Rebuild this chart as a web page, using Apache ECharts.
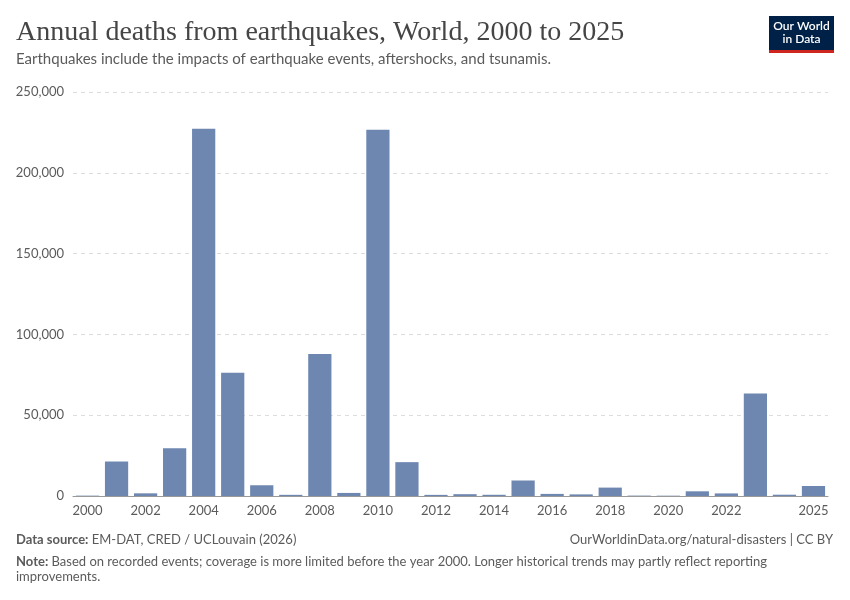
<!DOCTYPE html>
<html>
<head>
<meta charset="utf-8">
<script src="https://cdn.jsdelivr.net/npm/echarts@6/dist/echarts.min.js"></script>
<style>
  html, body { margin: 0; padding: 0; background: #fff; }
  #chart { width: 850px; height: 600px; }
</style>
</head>
<body>
<div id="chart"></div>
<script>
// years and annual earthquake deaths
const years = ['2000', '2001', '2002', '2003', '2004', '2005', '2006', '2007', '2008', '2009',
  '2010', '2011', '2012', '2013', '2014', '2015', '2016', '2017', '2018', '2019',
  '2020', '2021', '2022', '2023', '2024', '2025'];
const deaths = [230, 21350, 1650, 29600, 227300, 76200, 6650, 720, 87900, 1900,
  226700, 20950, 700, 1130, 750, 9600, 1300, 1000, 5200, 250,
  200, 2900, 1600, 63400, 800, 6200];
const shownLabels = ['2000', '2002', '2004', '2006', '2008', '2010', '2012', '2014',
  '2016', '2018', '2020', '2022', '2025'];
const yTicks = [0, 50000, 100000, 150000, 200000, 250000];

const chart = echarts.init(document.getElementById('chart'));

const labelFont = 'Lato, "Noto Sans", sans-serif';
const grey = '#5b5b5b';

const option = {
  backgroundColor: '#fff',
  animation: false,
  title: [
    {
      text: 'Annual deaths from earthquakes, World, 2000 to 2025',
      left: 16,
      top: 19,
      padding: 0,
      textStyle: {
        fontFamily: '"Liberation Serif", "DejaVu Serif", serif',
        fontSize: 28,
        fontWeight: 'normal',
        color: '#454545'
      }
    },
    {
      text: 'Earthquakes include the impacts of earthquake events, aftershocks, and tsunamis.',
      left: 16,
      top: 52,
      padding: 0,
      textStyle: { fontFamily: labelFont, fontSize: 15, fontWeight: 'normal', color: grey }
    },
    {
      text: '{b|Data source:} EM-DAT, CRED / UCLouvain (2026)',
      left: 16,
      top: 533,
      padding: 0,
      textStyle: {
        fontFamily: labelFont, fontSize: 13, fontWeight: 'normal', color: grey,
        rich: { b: { fontFamily: labelFont, fontSize: 13, fontWeight: 'bold', color: grey } }
      }
    },
    {
      text: 'OurWorldinData.org/natural-disasters | CC BY',
      right: 17,
      top: 533,
      padding: 0,
      textStyle: { fontFamily: labelFont, fontSize: 13, fontWeight: 'normal', color: grey }
    },
    {
      text: '{b|Note:} Based on recorded events; coverage is more limited before the year 2000. Longer historical trends may partly reflect reporting\nimprovements.',
      left: 16,
      top: 554,
      padding: 0,
      textStyle: {
        fontFamily: labelFont, fontSize: 13, fontWeight: 'normal', color: grey, lineHeight: 15,
        rich: { b: { fontFamily: labelFont, fontSize: 13, fontWeight: 'bold', color: grey, lineHeight: 15 } }
      }
    }
  ],
  graphic: [
    {
      type: 'group',
      left: 769,
      top: 16,
      children: [
        { type: 'rect', shape: { x: 0, y: 0, width: 65, height: 34 }, style: { fill: '#002147' } },
        { type: 'rect', shape: { x: 0, y: 34, width: 65, height: 3 }, style: { fill: '#ce261e' } },
        {
          type: 'text', x: 32.5, y: 17,
          style: {
            text: 'Our World\nin Data', fill: '#fff', align: 'center', verticalAlign: 'middle',
            font: '600 12px Lato, "Noto Sans", sans-serif', lineHeight: 13
          }
        }
      ]
    }
  ],
  grid: { left: 73, right: 22, top: 92, bottom: 104, containLabel: false },
  xAxis: {
    type: 'category',
    data: years,
    axisLine: { lineStyle: { color: '#999', width: 1 } },
    axisTick: {
      alignWithLabel: true,
      length: 5,
      lineStyle: { color: '#999' },
      interval: (i, v) => shownLabels.includes(v)
    },
    axisLabel: {
      interval: (i, v) => shownLabels.includes(v),
      color: grey,
      fontFamily: labelFont,
      fontSize: 13,
      margin: 8
    }
  },
  yAxis: {
    type: 'value',
    min: 0,
    max: 250000,
    interval: 50000,
    axisLine: { show: false },
    axisTick: { show: false },
    axisLabel: {
      color: grey,
      fontFamily: labelFont,
      fontSize: 13,
      margin: 9,
      formatter: v => yTicks.includes(v) ? v.toLocaleString('en-US') : ''
    },
    splitLine: { lineStyle: { color: '#dddddd', type: [4, 4] } }
  },
  series: [
    {
      type: 'bar',
      data: deaths,
      barCategoryGap: '20%',
      itemStyle: { color: '#6e87b0' }
    }
  ]
};

chart.setOption(option);
</script>
</body>
</html>
